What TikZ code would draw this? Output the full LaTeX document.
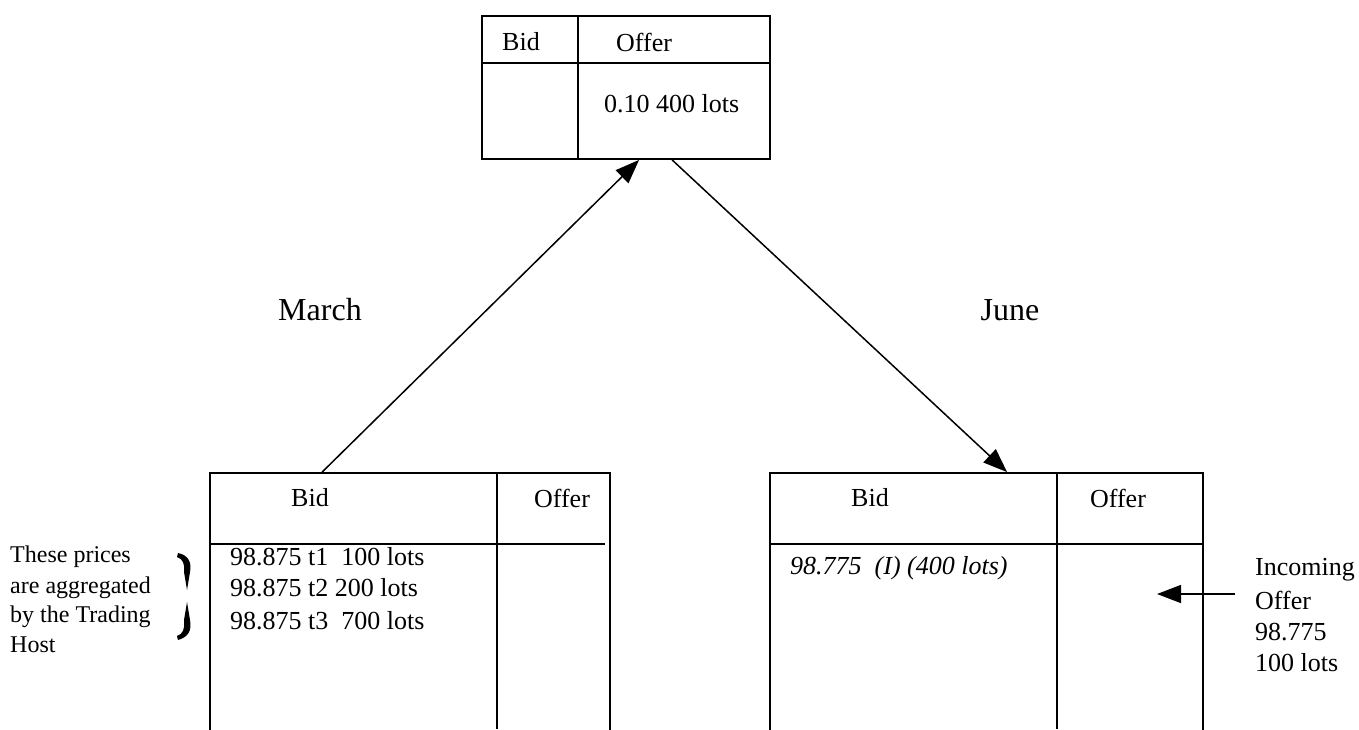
\documentclass[tikz,border=0pt]{standalone}
\usepackage{fontspec}
\setmainfont{Liberation Serif}
\usetikzlibrary{arrows.meta}
\tikzset{
	book/.style={draw, line width=1.8pt, inner sep=0pt},
	rule/.style={line width=1.8pt},
	txt/.style={inner sep=0pt, font=\fontsize{26}{30}\selectfont},
	note/.style={inner sep=0pt, anchor=west, font=\fontsize{24}{28}\selectfont},
	month/.style={inner sep=0pt, font=\fontsize{32}{36}\selectfont},
	flow/.style={line width=1.5pt, -{Triangle[length=24pt,width=18pt]}}
}
\begin{document}
\begin{tikzpicture}[x=1pt,y=-1pt]
		\useasboundingbox (0,0) rectangle (1359,729);
		\clip (0,0) rectangle (1359,729);
		% spread book
		\node[book, minimum width=288, minimum height=143] (spread) at (626,87.5) {};
		\draw[rule] (482,63) -- (770,63);
		\draw[rule] (578,16) -- (578,159);
		\node[txt, anchor=west] (spreadbid) at (502,42) {Bid};
		\node[txt, anchor=west] (spreadoffer) at (616,42) {Offer};
		\node[txt, anchor=west] (spreadprice) at (604,104) {0.10 400 lots};
		% march book
		\node[book, minimum width=400, minimum height=300] (mar) at (410,623) {};
		\draw[rule] (210,544) -- (605,544);
		\draw[rule] (497,473) -- (497,729);
		\node[txt] (marbid) at (310,498) {Bid};
		\node[txt] (maroffer) at (562,498) {Offer};
		\node[txt, anchor=west] (mar1) at (230,557) {98.875 t1\ \ 100 lots};
		\node[txt, anchor=west] (mar2) at (230,588) {98.875 t2 200 lots};
		\node[txt, anchor=west] (mar3) at (230,621) {98.875 t3\ \ 700 lots};
		\node[note] (agg1) at (10,557) {These prices};
		\node[note] (agg2) at (10,588) {are aggregated};
		\node[note] (agg3) at (10,617) {by the Trading};
		\node[note] (agg4) at (10,645) {Host};
		\fill (178,553) .. controls (188,555) and (192,562) .. (190,572) -- (187,590)
			-- (184,572) .. controls (185,564) and (183,559) .. (177,557) -- cycle;
		\fill (187,602) -- (190,620) .. controls (192,631) and (188,637) .. (178,640)
			-- (177,636) .. controls (183,634) and (185,629) .. (184,620) -- cycle;
		% june book
		\node[book, minimum width=433, minimum height=300] (jun) at (986.5,623) {};
		\draw[rule] (770,544) -- (1203,544);
		\draw[rule] (1057,473) -- (1057,729);
		\node[txt] (junbid) at (870,498) {Bid};
		\node[txt] (junoffer) at (1118,498) {Offer};
		\node[txt, anchor=west] (junimplied) at (790,568) {\itshape 98.775\ \ (I) (400 lots)};
		\node[txt, anchor=west] (inc1) at (1255,570) {Incoming};
		\node[txt, anchor=west] (inc2) at (1255,600) {Offer};
		\node[txt, anchor=west] (inc3) at (1255,632) {98.775};
		\node[txt, anchor=west] (inc4) at (1255,663) {100 lots};
		\coordinate (incfrom) at (1235,594);
		\coordinate (incto) at (1157,594);
		\draw[flow] (incfrom) -- (incto);
		% legs
		\node[month] (march) at (320,310) {March};
		\node[month] (june) at (1010,310) {June};
		\draw[flow] ([xshift=113]mar.north west) -- ([xshift=158]spread.south west);
		\draw[flow] ([xshift=191]spread.south west) -- ([xshift=238]jun.north west);
	\end{tikzpicture}
\end{document}
